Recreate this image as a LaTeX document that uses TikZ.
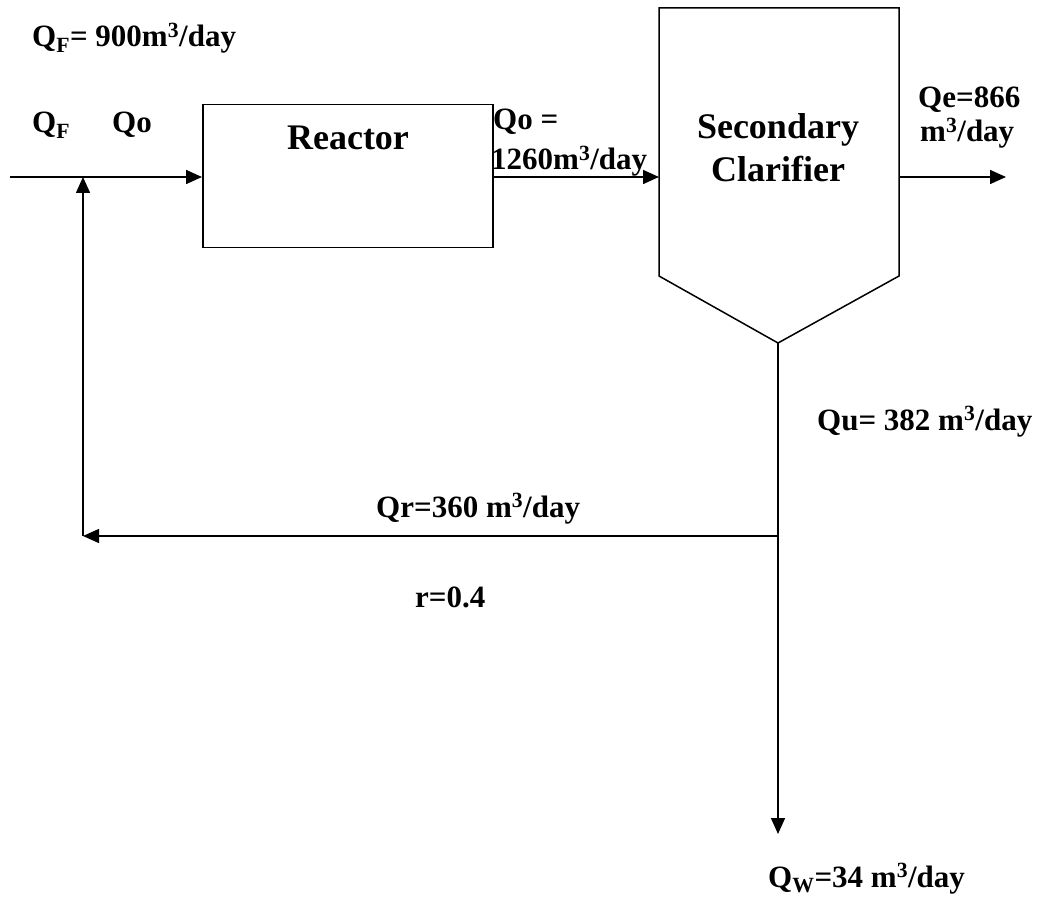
\documentclass[tikz,border=0pt]{standalone}
\usepackage{fontspec}
\setmainfont{Liberation Serif}
\usetikzlibrary{arrows.meta}
\tikzset{
  ln/.style={line width=1.5pt, line cap=butt, line join=miter},
  arr/.style={ln, -{Triangle[length=16pt,width=14pt]}},
  lbl/.style={inner sep=0pt, anchor=base west, font=\fontsize{31}{36}\selectfont\bfseries},
  big/.style={inner sep=0pt, anchor=base, font=\fontsize{36}{42}\selectfont\bfseries},
  boxst/.style={ln, draw, rectangle, inner sep=0pt, minimum width=290pt, minimum height=143pt, anchor=north west}
}
\begin{document}
\begin{tikzpicture}[x=1pt,y=-1pt]
\useasboundingbox[fill=white] (0,0) rectangle (1046,909);
% reactor
\node[boxst] (reactor) at (202,104) {};
\node[big] (rt) at (348,150) {Reactor};
% clarifier
\draw[ln] (659,8) -- (899,8) -- (899,276) -- (778,343) -- (659,276) -- cycle;
\coordinate (clbot) at (778,343);
\coordinate (clL) at (659,177);
\coordinate (clR) at (899,177);
\node[big] (sec) at (778,139) {Secondary};
\node[big] (cla) at (778,182) {Clarifier};
% junctions
\coordinate (in) at (10,177);
\coordinate (mix) at (83,177);
\coordinate (ret) at (83,536);
\coordinate (split) at (778,536);
\coordinate (out) at (1006,177);
\coordinate (wst) at (778,834);
% connectors
\draw[arr] (in) -- (reactor.west |- in);
\draw[arr] (reactor.east |- in) -- (clL);
\draw[arr] (clR) -- (out);
\draw[arr] (clbot) -- (wst);
\draw[arr] (split) -- (ret);
\draw[arr] (ret) -- (mix);
% labels
\node[lbl] (qf1) at (32,47) {Q\textsubscript{F}= 900m\textsuperscript{3}/day};
\node[lbl] (qf2) at (32,133) {Q\textsubscript{F}};
\node[lbl] (qo1) at (112,133) {Qo};
\node[lbl] (qo2) at (493,130) {Qo =};
\node[lbl] (qo3) at (491,170) {1260m\textsuperscript{3}/day};
\node[lbl] (qe1) at (918,108) {Qe=866};
\node[lbl] (qe2) at (920,142) {m\textsuperscript{3}/day};
\node[lbl] (qu) at (817,430) {Qu= 382 m\textsuperscript{3}/day};
\node[lbl] (qr) at (376,517) {Qr=360 m\textsuperscript{3}/day};
\node[lbl] (rr) at (415,607) {r=0.4};
\node[lbl] (qw) at (768,887) {Q\textsubscript{W}=34 m\textsuperscript{3}/day};
\end{tikzpicture}
\end{document}
